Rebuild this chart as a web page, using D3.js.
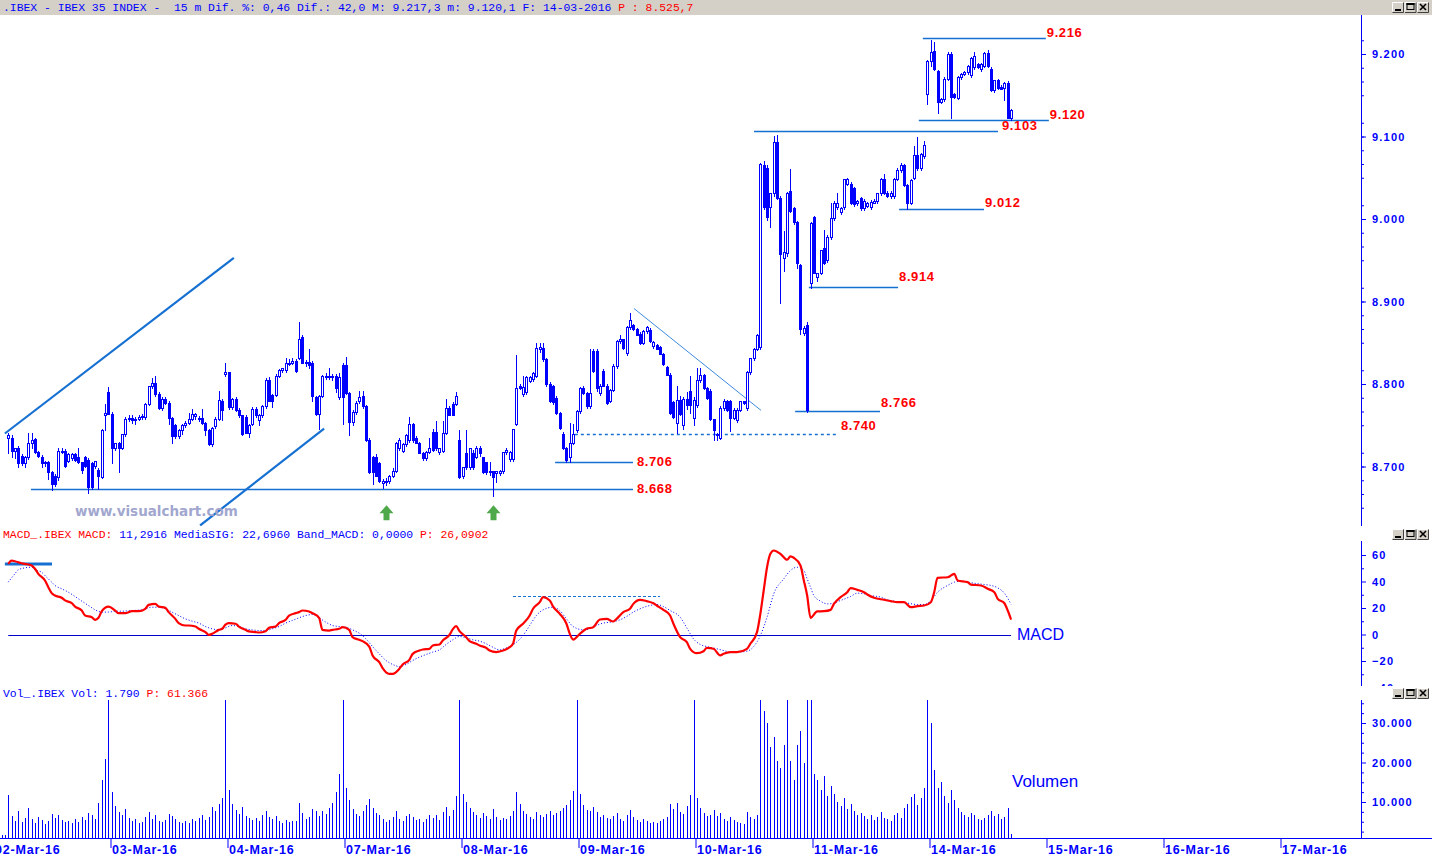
<!DOCTYPE html>
<html><head><meta charset="utf-8">
<script src="https://cdn.jsdelivr.net/npm/d3@7"></script>
<style>body{margin:0;background:#fff;overflow:hidden}svg{display:block}text{white-space:pre}</style>
</head><body><svg id="c" width="1432" height="857"></svg>
<script>
// ---------------- DATA ----------------
const days = ["02-Mar-16","03-Mar-16","04-Mar-16","07-Mar-16","08-Mar-16","09-Mar-16","10-Mar-16","11-Mar-16","14-Mar-16","15-Mar-16","16-Mar-16","17-Mar-16"];
const BARS = 35; // 15-minute bars per session (incl. closing auction)
// [open, high, low, close]
const mar02 = [[8734,8741,8716,8738],[8735,8738,8712,8719],[8719,8723,8710,8722],[8723,8725,8699,8704],[8713,8715,8702,8704],[8704,8713,8699,8712],[8711,8741,8709,8728],[8728,8741,8723,8732],[8733,8735,8716,8718],[8718,8719,8711,8713],[8712,8714,8699,8704],[8704,8707,8701,8705],[8705,8707,8685,8693],[8693,8694,8671,8679],[8689,8691,8676,8679],[8687,8723,8684,8719],[8717,8723,8716,8719],[8719,8721,8700,8701],[8707,8716,8705,8715],[8710,8716,8708,8715],[8715,8716,8707,8708],[8712,8723,8704,8705],[8705,8706,8692,8696],[8711,8713,8700,8701],[8708,8710,8668,8675],[8704,8706,8673,8675],[8701,8707,8698,8707],[8696,8698,8673,8688],[8687,8745,8686,8744],[8763,8776,8744,8765]];
const mar03 = [[8790,8796,8764,8764],[8764,8766,8704,8723],[8723,8726,8720,8728],[8728,8730,8693,8723],[8723,8740,8721,8739],[8739,8760,8737,8758],[8757,8762,8755,8759],[8759,8762,8753,8756],[8756,8760,8752,8758],[8758,8763,8756,8760],[8760,8764,8757,8761],[8760,8777,8758,8776],[8776,8798,8774,8797],[8797,8807,8795,8801],[8801,8810,8786,8788],[8788,8790,8770,8771],[8771,8784,8769,8782],[8782,8784,8776,8777],[8777,8779,8752,8759],[8759,8760,8728,8737],[8750,8752,8735,8737],[8737,8746,8734,8744],[8744,8752,8740,8750],[8750,8755,8748,8753],[8753,8765,8751,8758],[8758,8770,8756,8764],[8761,8765,8758,8764],[8759,8761,8755,8757],[8759,8770,8752,8753],[8753,8754,8738,8744],[8744,8746,8726,8727],[8727,8748,8725,8747],[8749,8760,8747,8758],[8758,8792,8756,8781],[8780,8782,8756,8768]];
const mar04 = [[8812,8826,8810,8814],[8814,8815,8770,8772],[8772,8783,8770,8782],[8782,8784,8767,8768],[8769,8771,8760,8762],[8762,8763,8738,8740],[8760,8762,8741,8741],[8741,8752,8736,8750],[8752,8772,8750,8770],[8770,8772,8760,8762],[8756,8764,8750,8762],[8762,8775,8760,8773],[8773,8807,8771,8805],[8805,8808,8779,8780],[8787,8788,8772,8780],[8787,8812,8785,8810],[8810,8818,8808,8817],[8817,8820,8815,8819],[8817,8832,8815,8826],[8826,8830,8823,8826],[8826,8832,8824,8828],[8828,8830,8814,8816],[8832,8875,8830,8855],[8857,8860,8825,8826],[8826,8829,8822,8827],[8827,8843,8820,8823],[8826,8828,8779,8786],[8784,8786,8763,8764],[8764,8787,8746,8786],[8786,8811,8784,8810],[8810,8813,8806,8808],[8808,8819,8806,8810],[8808,8812,8805,8810],[8810,8812,8790,8795],[8784,8813,8782,8808]];
const mar07 = [[8823,8826,8752,8784],[8823,8833,8788,8789],[8789,8790,8738,8754],[8754,8768,8750,8766],[8766,8779,8764,8777],[8779,8792,8777,8784],[8785,8792,8771,8773],[8773,8775,8731,8732],[8732,8734,8692,8693],[8711,8713,8679,8693],[8712,8715,8688,8689],[8704,8706,8681,8683],[8680,8685,8674,8683],[8681,8686,8677,8683],[8683,8690,8680,8689],[8689,8698,8687,8695],[8695,8730,8693,8729],[8722,8735,8720,8732],[8719,8728,8717,8727],[8727,8740,8725,8738],[8732,8760,8730,8751],[8751,8753,8730,8732],[8735,8737,8728,8728],[8728,8730,8716,8716],[8716,8718,8708,8710],[8710,8719,8708,8718],[8718,8735,8716,8722],[8742,8745,8719,8720],[8742,8755,8720,8722],[8717,8723,8715,8723],[8719,8755,8717,8741],[8741,8782,8739,8771],[8771,8773,8762,8762],[8776,8778,8762,8762],[8776,8790,8774,8786]];
const mar08 = [[8732,8744,8686,8687],[8688,8700,8686,8699],[8716,8744,8697,8699],[8699,8723,8697,8722],[8716,8720,8697,8699],[8712,8725,8710,8722],[8722,8725,8713,8716],[8711,8712,8692,8693],[8705,8706,8691,8693],[8695,8705,8690,8693],[8694,8695,8664,8687],[8692,8694,8681,8694],[8692,8696,8690,8694],[8694,8718,8692,8717],[8717,8722,8715,8720],[8709,8719,8707,8717],[8709,8746,8707,8745],[8752,8835,8750,8795],[8797,8800,8794,8795],[8788,8810,8786,8796],[8790,8810,8788,8808],[8804,8810,8802,8808],[8806,8815,8804,8813],[8810,8850,8808,8844],[8843,8850,8839,8845],[8844,8850,8828,8830],[8830,8832,8798,8800],[8800,8802,8778,8779],[8797,8799,8776,8778],[8783,8785,8764,8765],[8765,8766,8746,8747],[8740,8742,8721,8722],[8722,8724,8705,8708],[8711,8753,8706,8729],[8729,8752,8727,8740]];
const mar09 = [[8744,8768,8742,8767],[8767,8796,8765,8795],[8795,8797,8788,8789],[8789,8790,8771,8773],[8773,8842,8771,8789],[8840,8842,8815,8816],[8840,8842,8792,8795],[8789,8800,8787,8798],[8816,8818,8797,8798],[8798,8800,8776,8777],[8780,8794,8778,8793],[8793,8824,8791,8822],[8822,8853,8820,8852],[8852,8859,8850,8854],[8854,8855,8843,8844],[8837,8870,8835,8869],[8869,8886,8867,8877],[8871,8873,8866,8867],[8867,8868,8859,8860],[8861,8863,8849,8850],[8850,8865,8848,8864],[8864,8870,8862,8869],[8866,8868,8851,8852],[8846,8852,8844,8851],[8847,8848,8842,8842],[8845,8846,8836,8836],[8836,8837,8823,8824],[8821,8822,8811,8811],[8811,8813,8764,8765],[8778,8780,8759,8760],[8753,8798,8741,8781],[8781,8786,8763,8764],[8750,8784,8746,8782],[8782,8790,8770,8775],[8792,8810,8765,8775]];
const mar10 = [[8759,8784,8750,8781],[8774,8820,8772,8805],[8805,8820,8803,8811],[8811,8812,8794,8795],[8795,8796,8782,8783],[8792,8794,8756,8757],[8757,8758,8732,8744],[8738,8741,8732,8740],[8735,8773,8733,8771],[8771,8782,8769,8779],[8780,8781,8767,8768],[8780,8781,8743,8759],[8759,8771,8757,8768],[8756,8771,8754,8769],[8769,8780,8767,8779],[8779,8780,8776,8777],[8771,8816,8769,8815],[8814,8832,8812,8831],[8831,8844,8829,8843],[8843,8861,8841,8860],[8845,9068,8842,9067],[9066,9070,9012,9014],[9062,9066,8999,9002],[9014,9031,8990,9031],[9031,9101,9028,9093],[9093,9102,9024,9026],[9026,9028,8898,8958],[8953,8985,8937,8960],[8959,9033,8955,9031],[9034,9061,9008,9010],[9013,9015,8994,8996],[8996,8998,8941,8947],[8944,8946,8861,8867],[8862,8870,8860,8868],[8872,8875,8766,8768]];
const mar11 = [[8923,8996,8916,8995],[9002,9004,8934,8935],[8930,8934,8925,8934],[8935,8962,8933,8962],[8965,8987,8945,8947],[8950,8980,8948,8978],[8978,9020,8976,9001],[9001,9022,8999,9020],[9014,9031,9012,9020],[9008,9014,9006,9013],[9014,9048,9012,9048],[9043,9050,9041,9048],[9043,9045,9018,9020],[9037,9039,9016,9018],[9019,9023,9017,9022],[9025,9027,9011,9013],[9013,9024,9011,9022],[9016,9021,9014,9019],[9014,9023,9012,9021],[9020,9024,9019,9022],[9022,9032,9020,9031],[9031,9050,9029,9048],[9048,9055,9030,9031],[9032,9034,9027,9028],[9028,9034,9026,9032],[9028,9050,9026,9049],[9049,9062,9047,9060],[9059,9068,9057,9065],[9066,9067,9040,9041],[9041,9043,9012,9020],[9020,9048,9018,9047],[9050,9088,9048,9077],[9077,9100,9060,9062],[9062,9080,9060,9079],[9076,9094,9074,9090]];
const mar14 = [[9152,9193,9140,9192],[9192,9217,9186,9202],[9204,9215,9181,9182],[9179,9181,9129,9142],[9142,9147,9141,9146],[9145,9172,9143,9170],[9170,9202,9168,9200],[9200,9202,9122,9148],[9151,9153,9147,9148],[9147,9173,9145,9172],[9172,9177,9170,9176],[9176,9179,9174,9178],[9178,9187,9176,9186],[9174,9196,9172,9195],[9184,9202,9182,9197],[9188,9189,9183,9184],[9182,9189,9180,9188],[9186,9203,9184,9201],[9201,9205,9184,9185],[9182,9184,9155,9156],[9156,9169,9154,9168],[9168,9170,9158,9159],[9160,9162,9157,9158],[9159,9166,9144,9165],[9165,9167,9122,9123],[9123,9133,9120,9132]];
// volume per bar
const vol02 = [11800,6500,5200,7800,5000,6000,8500,5600,4800,6200,5500,4500,5200,7000,6000,6800,5500,4900,5300,4600,5800,5000,6300,5400,7200,6800,5600,9800,15500,21000];
const vol03 = [38000,12500,9000,7500,6800,8200,6000,5200,5600,4800,5000,6200,7400,5800,6600,5200,4900,5400,7000,6400,5800,5000,4600,5200,4800,5600,5100,6000,6800,5500,6200,8800,7600,9500,11000];
const vol04 = [38000,13000,9500,8000,7000,8800,6500,6000,5400,5900,5200,6800,7800,6200,5600,6400,5200,4800,5500,4900,5300,5100,9800,7200,5600,6100,8200,7600,6400,7800,6900,8400,9800,12500,17000];
const vol07 = [38000,13500,10500,8200,7000,6500,7600,9200,10800,8500,7200,6800,5600,5000,5400,6200,7800,5800,5200,6400,7000,6200,5400,5800,5000,5600,6600,6000,6800,5400,7400,8800,6500,8000,11500];
const vol08 = [38000,12000,10000,8600,7400,6800,6000,7200,6400,5800,8200,6200,5400,6000,5600,6400,7600,12500,9600,7800,7000,6200,5600,7400,6800,6200,7000,7800,6600,7200,7800,8400,9200,10500,12800];
const vol09 = [38000,12000,9200,8000,7600,8800,7400,6200,6800,6000,5600,6400,7200,5600,5200,6600,8000,6200,5400,5000,5800,5200,4800,5000,4600,5200,5600,6200,9400,8200,9800,7400,7000,9000,11800];
const vol10 = [38000,11000,8600,7200,6400,6800,8000,6400,7200,5800,5200,6200,5400,5000,4800,4400,7400,6200,5800,6800,38000,33000,30000,24000,26500,20500,18500,24500,36000,20500,15500,24500,28000,20000,36000];
const vol11 = [36000,17000,15500,13000,16500,11500,14000,12000,10000,9000,11000,8200,9500,7600,6800,7200,6400,5800,6600,5400,6200,7400,6000,5600,5200,6800,7200,6000,8400,9600,11200,12000,9200,11000,13500];
const vol14 = [38000,30000,18000,13500,15000,11500,9800,13000,10500,8400,7400,6800,6200,7200,6600,5800,5400,6000,6800,7600,6400,7000,5600,6200,8400,1790];
// MACD and signal: [bar index, value]
const macdLine = [[5,53.3],[6,55.8],[7,55.3],[9,53.8],[10,53.3],[12,52.1],[13,49.6],[14,45.8],[16,40.8],[17,35.7],[18,31.2],[19,29.4],[21,27.7],[22,25.7],[24,23.6],[25,21.1],[27,18.1],[28,14.3],[30,13.1],[31,11.1],[32,12.6],[33,17.6],[35,21.1],[37,18.1],[38,16.1],[40,16.1],[42,17.6],[44,17.6],[46,19.4],[47,22.4],[49,23.1],[50,21.1],[52,20.1],[53,16.9],[55,11.8],[56,8.6],[58,6.8],[59,6.8],[61,6.0],[62,4.3],[64,1.8],[65,-0.3],[66,0.5],[68,3.5],[69,4.3],[70,7.5],[71,8.6],[73,8.1],[74,6.0],[76,3.5],[77,2.3],[79,1.8],[80,1.5],[82,2.5],[83,5.0],[85,6.0],[86,8.6],[88,11.1],[89,14.3],[91,16.1],[92,16.9],[93,18.1],[95,17.4],[96,16.1],[98,12.6],[99,3.5],[101,3.0],[102,3.5],[104,4.3],[105,5.5],[107,3.5],[108,-2.0],[110,-4.0],[111,-5.0],[113,-9.1],[114,-15.8],[116,-20.9],[117,-25.4],[119,-29.7],[120,-29.7],[122,-25.9],[123,-22.6],[125,-19.1],[126,-14.6],[128,-12.1],[129,-11.3],[131,-10.8],[132,-8.3],[134,-7.5],[135,-4.5],[137,-0.3],[138,4.0],[139,6.3],[140,2.5],[142,-2.0],[143,-5.0],[145,-7.0],[146,-8.3],[148,-10.1],[149,-12.1],[151,-13.3],[152,-12.8],[154,-11.2],[155,-9.6],[156,-7.0],[157,3.0],[159,8.1],[161,14.3],[162,19.4],[164,24.4],[165,28.2],[167,25.7],[168,21.1],[170,15.6],[172,8.1],[173,0.5],[174,-3.8],[176,0.5],[178,4.3],[180,5.5],[182,11.3],[184,11.8],[186,9.8],[187,11.8],[189,16.9],[191,19.4],[192,23.1],[194,26.2],[196,25.2],[198,23.6],[199,21.9],[201,18.6],[203,14.3],[204,8.1],[206,-2.0],[208,-5.8],[209,-10.8],[211,-14.1],[213,-12.6],[214,-10.1],[216,-10.8],[218,-15.8],[219,-14.6],[221,-13.3],[223,-13.3],[226,-10.8],[227,-7.0],[229,1.8],[230,15.6],[231,33.2],[232,50.8],[233,60.9],[234,63.4],[236,60.9],[238,56.4],[239,58.9],[240,57.9],[242,52.1],[243,40.8],[244,29.4],[245,12.6],[247,17.4],[249,17.6],[251,18.6],[252,23.1],[254,28.2],[256,31.9],[257,35.0],[259,33.7],[261,31.9],[262,30.2],[264,27.7],[267,26.2],[269,25.2],[271,24.4],[273,24.4],[275,20.6],[277,21.4],[279,21.9],[281,24.4],[282,31.9],[283,42.8],[286,43.2],[288,45.8],[289,40.8],[292,39.5],[293,37.7],[296,37.0],[298,34.5],[300,31.9],[301,26.9],[303,23.6],[304,18.1],[305,11.3]];
const sigLine = [[5,39.5],[7,45.8],[8,48.8],[10,50.3],[12,50.8],[13,48.8],[15,47.0],[16,44.5],[18,39.5],[19,37.0],[21,34.5],[23,31.9],[25,28.7],[27,25.2],[29,21.9],[31,18.6],[33,16.9],[35,16.9],[37,17.6],[39,17.6],[42,18.1],[45,18.6],[48,20.6],[50,20.6],[52,19.4],[54,16.9],[56,14.3],[58,11.8],[60,10.1],[62,8.6],[64,6.0],[66,4.3],[68,3.5],[70,5.0],[72,6.8],[74,6.0],[76,4.3],[78,3.5],[80,3.0],[82,3.0],[84,4.3],[86,6.0],[88,8.6],[90,10.6],[92,12.6],[94,14.3],[96,15.1],[98,12.6],[100,9.3],[102,6.8],[104,6.0],[106,5.5],[108,3.5],[110,1.0],[112,-3.3],[114,-9.1],[116,-14.6],[118,-19.6],[120,-22.6],[122,-24.2],[124,-22.6],[126,-19.6],[128,-17.1],[130,-15.1],[132,-13.3],[134,-11.6],[136,-7.5],[138,-4.0],[140,-1.5],[142,-2.5],[144,-4.0],[146,-5.0],[148,-7.0],[150,-9.6],[152,-11.6],[154,-10.1],[155,-9.1],[159,-0.8],[161,6.8],[163,14.3],[165,18.6],[168,20.6],[170,18.1],[172,11.8],[174,6.0],[177,3.5],[179,4.3],[181,6.8],[183,8.6],[185,9.3],[188,11.1],[190,13.6],[192,16.9],[194,19.4],[197,21.9],[199,22.6],[201,21.1],[203,18.1],[206,13.1],[208,5.0],[210,-3.3],[212,-7.5],[214,-9.1],[217,-10.8],[219,-12.1],[221,-13.3],[223,-13.3],[226,-12.6],[228,-9.1],[230,-0.8],[232,13.1],[234,30.7],[237,42.0],[239,48.3],[241,50.8],[243,48.3],[244,42.0],[245,35.7],[246,29.4],[248,25.2],[250,23.1],[252,23.7],[254,25.7],[257,28.7],[259,31.2],[261,30.7],[263,29.4],[266,28.2],[268,26.2],[270,25.2],[272,24.4],[274,23.7],[277,22.6],[279,22.6],[281,25.7],[283,31.9],[286,37.0],[288,39.5],[290,40.3],[292,39.5],[294,38.7],[297,37.7],[299,37.0],[301,35.2],[303,31.2],[305,22.7]];
// axis ticks
const priceTicks = [8700,8800,8900,9000,9100,9200];
const macdTicks = [60,40,20,0,-20,-40];
const volTicks = [10000,20000,30000];
// drawn support / resistance levels: label, drawn price, from bar, to bar
const levelLabels = ["8.668","8.706","8.740","8.766","8.914","9.012","9.103","9.120","9.216"];
const levelPrices = [8672.5,8706,8739,8767,8917.5,9012,9106.5,9120,9219];
const levelFrom = [11.8,168.6,174.5,240.4,244.5,271.5,228.1,277.4,278.6];
const levelTo = [191.9,191.9,253.2,265.8,271.2,296.9,301.1,316.3,315.4];
// trend lines: [bar, price] pairs
const channelUpper = [[4.0,8740],[72.5,8953]];
const channelLower = [[62.4,8628.5],[99.5,8746]];
const downTrend = [[192.2,8891.5],[230.2,8768]];
// MACD reference lines: [fromBar, toBar, value]
const macdTop = [4.0,18.1,53.2];
const macdDash = [156,200,29.1];
const arrowBars = [118,150];
const arrowPrice = 8653;

// ---------------- DRAW ----------------
const BLUE="#0000ff", RED="#ff0000", ANN="#1570d2";
const svg = d3.select("#c");
const bars = [];
[mar02,mar03,mar04,mar07,mar08,mar09,mar10,mar11,mar14].forEach((arr,d)=>{
  const vols=[vol02,vol03,vol04,vol07,vol08,vol09,vol10,vol11,vol14][d];
  const start = d===0 ? BARS-arr.length : d*BARS;
  arr.forEach((b,i)=>bars.push({k:start+i,o:b[0],h:b[1],l:b[2],c:b[3],v:vols[i]}));
});
const lastK = bars[bars.length-1].k;

const x = d3.scaleLinear().domain([0, days.length*BARS]).range([-8.5, -8.5 + days.length*117]);
const yP = d3.scaleLinear().domain([8700,9200]).range([466.5,54]);
const yM = d3.scaleLinear().domain([0,60]).range([634.5,555]);
const yV = d3.scaleLinear().domain([0,30000]).range([841.5,723]);
const px = k => Math.round(x(k));

const defs = svg.append("defs");
function clip(id,x0,y0,w,h){defs.append("clipPath").attr("id",id).append("rect").attr("x",x0).attr("y",y0).attr("width",w).attr("height",h);}
clip("cp",0,15,1361,511); clip("cm",0,541,1361,145); clip("cv",0,700,1361,136);
clip("cma",1355,541,80,145);

// title bar
svg.append("rect").attr("x",0).attr("y",0).attr("width",1432).attr("height",15).attr("fill","#d4d0c8");
const monoFont = "11.4px 'Liberation Mono', 'DejaVu Sans Mono', monospace";
function header(y, parts){
  const t = svg.append("text").attr("x",3).attr("y",y).style("font",monoFont);
  parts.forEach(p=>t.append("tspan").attr("fill",p[1]).text(p[0]));
}
header(11,[[".IBEX - IBEX 35 INDEX -  15 m Dif. %: 0,46 Dif.: 42,0 M: 9.217,3 m: 9.120,1 F: 14-03-2016 ",BLUE],["P : 8.525,7",RED]]);
header(538,[["MACD_.IBEX MACD:",RED],[" 11,2916 MediaSIG: 22,6960 Band_MACD: 0,0000 ",BLUE],["P: 26,0902",RED]]);
header(697,[["Vol_.IBEX Vol: 1.790 ",BLUE],["P: 61.366",RED]]);

function buttons(y){
  [1392,1404.5,1417].forEach((bx,i)=>{
    const g = svg.append("g").attr("transform",`translate(${bx},${y})`);
    g.append("rect").attr("width",12).attr("height",10).attr("fill","#d4d0c8");
    g.append("path").attr("d","M0.5,9.5V0.5H11.5").attr("stroke","#fff").attr("fill","none");
    g.append("path").attr("d","M0.5,10.5H11.5V0.5").attr("stroke","#404040").attr("fill","none");
    if(i===0) g.append("rect").attr("x",3).attr("y",7).attr("width",6).attr("height",2).attr("fill","#000");
    if(i===1){ g.append("rect").attr("x",2.5).attr("y",1.5).attr("width",7).attr("height",6).attr("fill","none").attr("stroke","#000");
               g.append("rect").attr("x",2).attr("y",1).attr("width",8).attr("height",2).attr("fill","#000"); }
    if(i===2) g.append("path").attr("d","M3,2L9,8M9,2L3,8").attr("stroke","#000").attr("stroke-width",1.6);
  });
}
buttons(2); buttons(529); buttons(688);

// ---------- price panel ----------
const gp = svg.append("g").attr("clip-path","url(#cp)");
levelPrices.forEach((p,i)=>{
  gp.append("line").attr("x1",x(levelFrom[i])).attr("x2",x(levelTo[i]))
    .attr("y1",Math.round(yP(p))+0.5).attr("y2",Math.round(yP(p))+0.5)
    .attr("stroke",ANN).attr("stroke-width",1.3).attr("stroke-dasharray", levelLabels[i]==="8.740"?"3,3":null);
});
const tl = d3.line().x(d=>x(d[0])).y(d=>yP(d[1]));
gp.append("path").attr("d",tl(channelUpper)).attr("stroke",ANN).attr("stroke-width",2.2).attr("fill","none");
gp.append("path").attr("d",tl(channelLower)).attr("stroke",ANN).attr("stroke-width",2.2).attr("fill","none");
gp.append("path").attr("d",tl(downTrend)).attr("stroke","#3d8be0").attr("stroke-width",1).attr("fill","none");
// candles
gp.selectAll("line.w").data(bars).join("line").attr("class","w")
  .attr("x1",d=>px(d.k)+0.5).attr("x2",d=>px(d.k)+0.5)
  .attr("y1",d=>Math.round(yP(d.h))).attr("y2",d=>Math.round(yP(d.l))+1)
  .attr("stroke",BLUE).attr("stroke-width",1);
gp.selectAll("rect.b").data(bars).join("rect").attr("class","b")
  .each(function(d){
    const top=Math.round(yP(Math.max(d.o,d.c))), bot=Math.round(yP(Math.min(d.o,d.c)));
    const s=d3.select(this);
    if(d.c>=d.o){ s.attr("x",px(d.k)-0.5).attr("y",top+0.5).attr("width",2).attr("height",Math.max(1,bot-top))
                   .attr("fill","#fff").attr("stroke",BLUE).attr("stroke-width",1); }
    else { s.attr("x",px(d.k)-1).attr("y",top).attr("width",3).attr("height",Math.max(1,bot-top+1)).attr("fill",BLUE); }
  });
// level labels
const labelDy=[3,3,-5,-5,-7,-3,-2,-2,-2];
const labelDx=[4,4,3,1,1,1,4,1,1];
levelPrices.forEach((p,i)=>{
  svg.append("text").attr("x",x(levelTo[i])+labelDx[i]).attr("y",Math.round(yP(p))+labelDy[i]+0.5)
    .attr("fill",RED).style("font","bold 13px 'Liberation Sans', Arial, sans-serif").style("letter-spacing","0.6px")
    .text(levelLabels[i]);
});
// arrows
arrowBars.forEach(k=>{
  const cx=px(k)+0.5, ty=yP(arrowPrice);
  svg.append("path").attr("d",`M${cx},${ty}L${cx+7},${ty+8}H${cx+3}V${ty+15}H${cx-3}V${ty+8}H${cx-7}Z`).attr("fill","#4fa84a");
});
// watermark
svg.append("text").attr("x",75).attr("y",516).attr("fill","#a1a7cf")
  .style("font","bold 13.5px 'DejaVu Sans', Verdana, sans-serif").text("www.visualchart.com");

function styleAxis(g){
  g.select(".domain").remove();
  g.selectAll(".tick line").attr("stroke",BLUE);
  g.selectAll(".tick text").attr("fill",BLUE).style("font","bold 11px 'Liberation Sans', Arial, sans-serif").style("letter-spacing","1.2px");
}
const fmtK = v => (v/1000).toFixed(3);
// price axis
svg.append("line").attr("x1",1361.5).attr("x2",1361.5).attr("y1",15).attr("y2",526).attr("stroke",BLUE);
const pMinor = d3.range(-5,34).map(j=>8700+j*100/6).filter((v,i)=>((i+5)%6!==0) && yP(v)>16 && yP(v)<525);
svg.append("g").attr("transform","translate(1361,0)").call(d3.axisRight(yP).tickValues(pMinor).tickSize(3).tickFormat("")).call(styleAxis);
svg.append("g").attr("transform","translate(1361,0)").call(d3.axisRight(yP).tickValues(priceTicks).tickSize(5).tickPadding(6).tickFormat(fmtK)).call(styleAxis);

// ---------- MACD panel ----------
const gm = svg.append("g").attr("clip-path","url(#cm)");
gm.append("line").attr("x1",x(bars[0].k)).attr("x2",x(lastK)).attr("y1",Math.round(yM(0))+0.5).attr("y2",Math.round(yM(0))+0.5).attr("stroke","#0000c8");
gm.append("line").attr("x1",x(macdTop[0])).attr("x2",x(macdTop[1])).attr("y1",yM(macdTop[2])).attr("y2",yM(macdTop[2])).attr("stroke",ANN).attr("stroke-width",3);
gm.append("line").attr("x1",x(macdDash[0])).attr("x2",x(macdDash[1])).attr("y1",Math.round(yM(macdDash[2]))+0.5).attr("y2",Math.round(yM(macdDash[2]))+0.5).attr("stroke",ANN).attr("stroke-dasharray","3,2");
const ml = d3.line().x(d=>x(d[0])).y(d=>yM(d[1])).curve(d3.curveMonotoneX);
gm.append("path").attr("d",ml(sigLine)).attr("fill","none").attr("stroke",BLUE).attr("stroke-width",1).attr("stroke-dasharray","1,2");
gm.append("path").attr("d",ml(macdLine)).attr("fill","none").attr("stroke",RED).attr("stroke-width",2.2);
svg.append("text").attr("x",1017).attr("y",639.5).attr("fill",BLUE).style("font","16px 'Liberation Sans', Arial, sans-serif").text("MACD");
svg.append("line").attr("x1",1361.5).attr("x2",1361.5).attr("y1",541).attr("y2",686).attr("stroke",BLUE);
const ma = svg.append("g").attr("clip-path","url(#cma)");
ma.append("g").attr("transform","translate(1361,0)").call(d3.axisRight(yM).tickValues([50,30,10,-10,-30,-50]).tickSize(3).tickFormat("")).call(styleAxis);
ma.append("g").attr("transform","translate(1361,0)").call(d3.axisRight(yM).tickValues(macdTicks).tickSize(5).tickPadding(6).tickFormat(d3.format("d"))).call(styleAxis);

// ---------- Volume panel ----------
const gv = svg.append("g").attr("clip-path","url(#cv)");
gv.selectAll("line.v").data(bars).join("line").attr("class","v")
  .attr("x1",d=>px(d.k)+0.5).attr("x2",d=>px(d.k)+0.5)
  .attr("y1",yV(0)).attr("y2",d=>Math.round(yV(d.v))).attr("stroke",BLUE);
svg.append("text").attr("x",1012).attr("y",787).attr("fill",BLUE).style("font","17px 'Liberation Sans', Arial, sans-serif").text("Volumen");
svg.append("line").attr("x1",1361.5).attr("x2",1361.5).attr("y1",700).attr("y2",838).attr("stroke",BLUE);
const vMinor = d3.range(2500,40000,2500).filter(v=>v%10000!==0 && yV(v)>701 && yV(v)<836);
svg.append("g").attr("transform","translate(1361,0)").call(d3.axisRight(yV).tickValues(vMinor).tickSize(3).tickFormat("")).call(styleAxis);
svg.append("g").attr("transform","translate(1361,0)").call(d3.axisRight(yV).tickValues(volTicks).tickSize(5).tickPadding(6).tickFormat(fmtK)).call(styleAxis);

// ---------- time axis ----------
svg.append("line").attr("x1",0).attr("x2",1432).attr("y1",838.5).attr("y2",838.5).attr("stroke",BLUE);
svg.append("g").selectAll("line").data(d3.range(0,lastK+1)).join("line")
  .attr("x1",k=>px(k)+0.5).attr("x2",k=>px(k)+0.5).attr("y1",835).attr("y2",838).attr("stroke",BLUE);
const xa = svg.append("g").attr("transform","translate(2,838)")
  .call(d3.axisBottom(x).tickValues(d3.range(days.length).map(d=>d*BARS)).tickSize(10).tickFormat((v,i)=>days[i]));
xa.select(".domain").remove();
xa.selectAll(".tick line").attr("stroke",BLUE);
xa.selectAll(".tick text").attr("fill",BLUE).attr("text-anchor","start").attr("x",1).attr("y",16).attr("dy",null)
  .style("font","bold 12.5px 'Liberation Sans', Arial, sans-serif").style("letter-spacing","0.8px");
</script></body></html>
